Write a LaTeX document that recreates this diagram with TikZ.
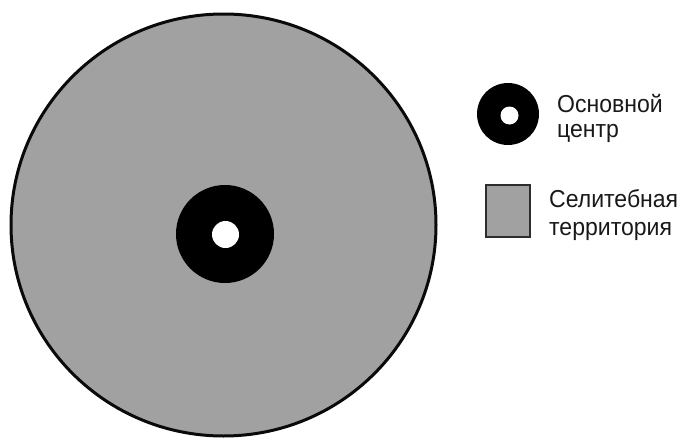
\documentclass[tikz,border=0pt]{standalone}
\usepackage{fontspec}
\setmainfont{Liberation Sans}
\definecolor{terr}{RGB}{161,161,161}
\definecolor{rim}{RGB}{10,10,10}
\definecolor{boxrim}{RGB}{45,45,45}
\newcommand{\lgtext}[1]{\scalebox{0.94}[1]{#1}}
\begin{document}
\begin{tikzpicture}[x=1pt,y=-1pt,
  lbl/.style={anchor=base west,inner sep=0pt,font=\fontsize{24.5}{25}\selectfont,text=black!90}]
\useasboundingbox (0,0) rectangle (683,439);
% main city
\draw[fill=terr,draw=rim,line width=3pt] (223.5,225) ellipse [x radius=212.5, y radius=211];
\fill[black] (225,234) circle [radius=49];
\fill[white] (225.5,234.5) circle [radius=13.5];
% legend: centre
\fill[black] (508,114) circle [radius=31];
\fill[white] (509.5,115.5) circle [radius=9];
\node[lbl] (c1) at (557,112) {\lgtext{Основной}};
\node[lbl] (c2) at (557,137.5) {\lgtext{центр}};
% legend: residential
\draw[fill=terr,draw=boxrim,line width=2.5pt] (486,185) rectangle (530,237);
\node[lbl] (t1) at (549,207) {\lgtext{Селитебная}};
\node[lbl] (t2) at (549,235) {\lgtext{территория}};
\end{tikzpicture}
\end{document}
